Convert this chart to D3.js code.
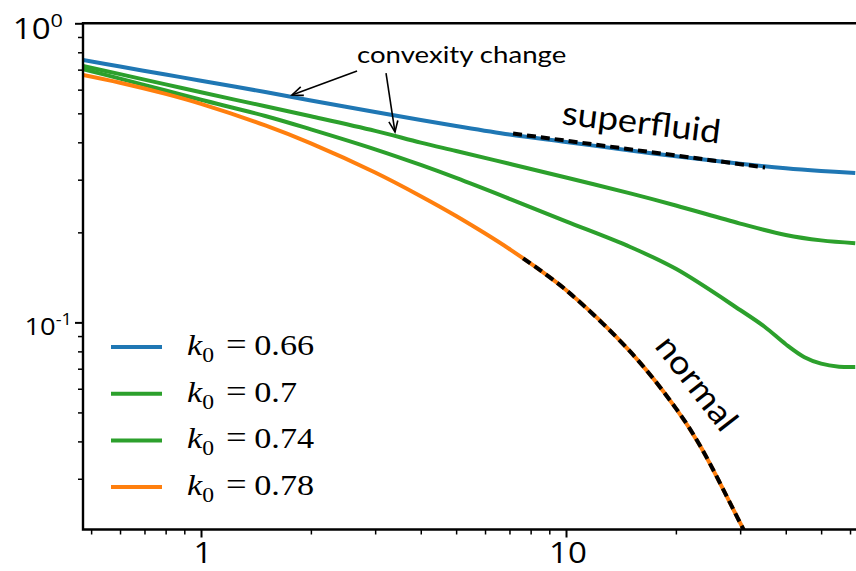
<!DOCTYPE html>
<html>
<head>
<meta charset="utf-8">
<script src="https://cdn.jsdelivr.net/npm/d3@7"></script>
<style>
  html, body { margin: 0; padding: 0; background: #fff; }
  svg { display: block; }
</style>
</head>
<body>
<svg id="chart" width="856" height="571"></svg>
<script>
// ---- data (log-log decay curves for four k0 values) ----
const seriesLabels = ["0.66", "0.7", "0.74", "0.78"];
const seriesColors = ["#1f77b4", "#2ca02c", "#2ca02c", "#ff7f0e"];

const xK066 = [0.475, 0.6, 0.8, 1, 1.5, 2, 3, 4, 5, 7, 10, 15, 20, 30, 40, 50, 62];
const yK066 = [0.754, 0.717, 0.674, 0.643, 0.589, 0.552, 0.505, 0.475, 0.4535, 0.4247, 0.4012, 0.3756, 0.3594, 0.3391, 0.3276, 0.3209, 0.3158];

const xK070 = [0.475, 0.6, 0.8, 1, 1.5, 2, 3, 4, 5, 7, 10, 15, 20, 30, 40, 50, 62];
const yK070 = [0.720, 0.676, 0.625, 0.588, 0.528, 0.489, 0.437, 0.399, 0.374, 0.339, 0.305, 0.270, 0.246, 0.214, 0.196, 0.188, 0.184];

const xK074 = [0.475, 0.6, 0.8, 1, 1.5, 2, 3, 4, 5, 7, 10, 15, 20, 30, 35, 40, 45, 50, 56, 62];
const yK074 = [0.703, 0.653, 0.596, 0.555, 0.490, 0.442, 0.379, 0.336, 0.304, 0.259, 0.2177, 0.1787, 0.151, 0.110, 0.0967, 0.0845, 0.0765, 0.0728, 0.0711, 0.0709];

const xK078 = [0.475, 0.6, 0.8, 1, 1.5, 2, 3, 4, 5, 7, 10, 15, 20, 23.3, 30, 32];
const yK078 = [0.672, 0.633, 0.581, 0.538, 0.4556, 0.3968, 0.3170, 0.2642, 0.2268, 0.1759, 0.1283, 0.0798, 0.0516, 0.0387, 0.02135, 0.0183];

// fitted asymptotic forms (dashed)
const xSuperfluidFit = [7.16, 35.1];
const ySuperfluidFit = [0.428, 0.3295];
const xNormalFit = [7.63, 10, 15, 20, 23.3, 30, 32];
const yNormalFit = [0.1638, 0.1283, 0.0798, 0.0516, 0.0387, 0.02135, 0.0183];

// axes
const xDomain = [0.475, 68];
const yDomain = [0.0203, 1];
const xMajorTicks = [1, 10];
const xMajorLabels = ["1", "10"];
const xMinorTicks = [0.5, 0.6, 0.7, 0.8, 0.9, 2, 3, 4, 5, 6, 7, 8, 9, 20, 30, 40, 50, 60];
const yMajorTicks = [1, 0.1];
const yMajorExponents = ["0", "-1"];
const yMinorTicks = [0.03, 0.04, 0.05, 0.06, 0.07, 0.08, 0.09, 0.2, 0.3, 0.4, 0.5, 0.6, 0.7, 0.8, 0.9];

// annotations (data coordinates)
const convexityText = "convexity change";
const convexityTextAt = [2.676, 0.737];
const convexityArrows = [
  { from: [2.676, 0.693], to: [1.775, 0.576] },
  { from: [3.213, 0.682], to: [3.40, 0.433] }
];
const superfluidText = "superfluid";
const superfluidTextAt = [9.69, 0.4607];
const normalText = "normal";
const normalTextAt = [17.4, 0.0830];

// ---- layout ----
const svg = d3.select("#chart");
const plotLeft = 83, plotTop = 23.3, plotBottom = 529.5;
const decadeX = 365;
const plotRight = plotLeft + decadeX * Math.log10(xDomain[1] / xDomain[0]);
const stretch = 1.14;   // horizontal stretch applied to tick text

const x = d3.scaleLog().domain(xDomain).range([plotLeft, plotRight]);
const y = d3.scaleLog().domain(yDomain).range([plotBottom, plotTop]);

const defs = svg.append("defs");
defs.append("clipPath").attr("id", "plotClip")
  .append("rect").attr("x", plotLeft).attr("y", plotTop)
  .attr("width", plotRight - plotLeft).attr("height", plotBottom - plotTop);

defs.append("marker")
  .attr("id", "arrowHead")
  .attr("viewBox", "-13 -7 15 14")
  .attr("refX", 0).attr("refY", 0)
  .attr("markerWidth", 15).attr("markerHeight", 14)
  .attr("markerUnits", "userSpaceOnUse")
  .attr("orient", "auto")
  .append("path")
  .attr("d", "M-11,-4.5L0,0L-11,4.5")
  .attr("fill", "none").attr("stroke", "#000").attr("stroke-width", 1.6);

// ---- curves ----
const series = [
  { xs: xK066, ys: yK066 },
  { xs: xK070, ys: yK070 },
  { xs: xK074, ys: yK074 },
  { xs: xK078, ys: yK078 }
];
const line = d3.line()
  .x(d => x(d[0])).y(d => y(d[1]))
  .curve(d3.curveCatmullRom.alpha(0.5));

const plotG = svg.append("g").attr("clip-path", "url(#plotClip)");
series.forEach((s, i) => {
  plotG.append("path")
    .attr("d", line(d3.zip(s.xs, s.ys)))
    .attr("fill", "none")
    .attr("stroke", seriesColors[i])
    .attr("stroke-width", 4)
    .attr("stroke-linejoin", "round");
});

// dashed fits
[[xSuperfluidFit, ySuperfluidFit], [xNormalFit, yNormalFit]].forEach(([xs, ys]) => {
  plotG.append("path")
    .attr("d", line(d3.zip(xs, ys)))
    .attr("fill", "none")
    .attr("stroke", "#000")
    .attr("stroke-width", 4)
    .attr("stroke-dasharray", "9 5");
});

// ---- axes ----
function tickGroup(axis, transform, size, width) {
  const g = svg.append("g").attr("transform", transform)
    .call(axis.tickSize(size).tickFormat(""));
  g.select(".domain").remove();
  g.selectAll(".tick line").attr("stroke", "#000").attr("stroke-width", width);
  g.selectAll(".tick text").remove();
  return g;
}
tickGroup(d3.axisBottom(x).tickValues(xMinorTicks), `translate(0,${plotBottom})`, 5, 1.5);
tickGroup(d3.axisBottom(x).tickValues(xMajorTicks), `translate(0,${plotBottom})`, 8, 2);
tickGroup(d3.axisLeft(y).tickValues(yMinorTicks), `translate(${plotLeft},0)`, 5, 1.5);
tickGroup(d3.axisLeft(y).tickValues(yMajorTicks), `translate(${plotLeft},0)`, 8, 2);

// spines
svg.append("path")
  .attr("d", `M${plotRight},${plotTop}H${plotLeft}V${plotBottom}H${plotRight}`)
  .attr("fill", "none").attr("stroke", "#000").attr("stroke-width", 2.4);

// x tick labels
xMajorTicks.forEach((v, i) => {
  svg.append("text")
    .attr("transform", `translate(${x(v) + 2},563) scale(${stretch},1)`)
    .attr("text-anchor", "middle")
    .attr("font-family", "'Open Sans', sans-serif")
    .attr("font-size", 29)
    .attr("fill", "#000")
    .text(xMajorLabels[i]);
});

// y tick labels (powers of ten)
const yLabelStyle = [
  { size: 29, sup: 19, lift: 12, endX: 63, base: 16 },
  { size: 24, sup: 16, lift: 10, endX: 72, base: 13 }
];
yMajorTicks.forEach((v, i) => {
  const st = yLabelStyle[i];
  const t = svg.append("text")
    .attr("transform", `translate(${st.endX},${y(v) + st.base}) scale(${stretch},1)`)
    .attr("text-anchor", "end")
    .attr("font-family", "'Open Sans', sans-serif")
    .attr("font-size", st.size)
    .attr("fill", "#000");
  t.append("tspan").text("10");
  t.append("tspan").attr("font-size", st.sup).attr("dy", -st.lift).text(yMajorExponents[i]);
});

// ---- legend ----
const legend = svg.append("g");
seriesLabels.forEach((lab, i) => {
  const by = 355 + i * 46.7;
  legend.append("line")
    .attr("x1", 111).attr("x2", 162)
    .attr("y1", by - 8).attr("y2", by - 8)
    .attr("stroke", seriesColors[i]).attr("stroke-width", 4);
  const t = legend.append("text")
    .attr("transform", `translate(187,${by}) scale(1.18,1)`)
    .attr("font-family", "'Liberation Serif', 'DejaVu Serif', serif")
    .attr("font-size", 29)
    .attr("fill", "#000");
  t.append("tspan").attr("font-style", "italic").text("k");
  t.append("tspan").attr("font-size", 20).attr("dy", 7).text("0");
  t.append("tspan").attr("x", 33).attr("dy", -7).attr("font-size", 31).text("=");
  t.append("tspan").attr("x", 57).text(lab);
});

// ---- annotations ----
const annG = svg.append("g");
convexityArrows.forEach(a => {
  annG.append("line")
    .attr("x1", x(a.from[0])).attr("y1", y(a.from[1]))
    .attr("x2", x(a.to[0])).attr("y2", y(a.to[1]))
    .attr("stroke", "#000").attr("stroke-width", 1.6)
    .attr("marker-end", "url(#arrowHead)");
});
annG.append("text")
  .attr("transform", `translate(${x(convexityTextAt[0])},${y(convexityTextAt[1])}) scale(1.15,1)`)
  .attr("font-family", "Lato, 'Open Sans', sans-serif")
  .attr("font-size", 24)
  .attr("fill", "#000")
  .text(convexityText);

annG.append("text")
  .attr("transform", `translate(${x(superfluidTextAt[0])},${y(superfluidTextAt[1])}) rotate(7) scale(1.1,1)`)
  .attr("font-family", "Lato, 'Open Sans', sans-serif")
  .attr("font-size", 33)
  .attr("fill", "#000")
  .text(superfluidText);

annG.append("text")
  .attr("transform", `translate(${x(normalTextAt[0])},${y(normalTextAt[1])}) rotate(52) scale(1.1,1)`)
  .attr("font-family", "Lato, 'Open Sans', sans-serif")
  .attr("font-size", 33)
  .attr("fill", "#000")
  .text(normalText);
</script>
</body>
</html>
